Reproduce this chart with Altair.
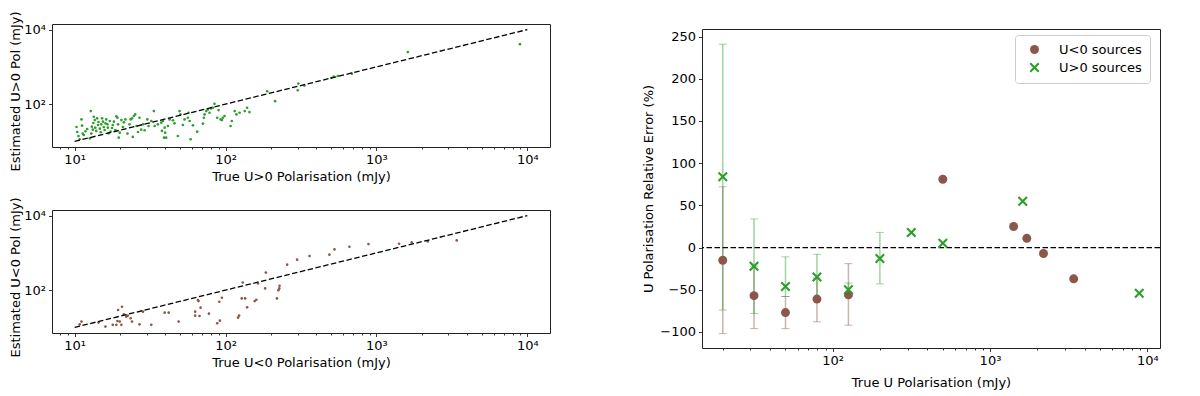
import altair as alt
import pandas as pd

GREEN = "#2ca02c"
BROWN = "#8c564b"
FONT = "DejaVu Sans"

# ---------- left top: U>0 sources (true vs estimated, mJy) ----------
pos_true = [10.3, 10.4, 10.6, 10.8, 11.1, 11.2, 11.3, 11.5, 11.8, 12.1, 12.6, 12.8, 12.9, 13.0, 13.2,
            13.3, 13.4, 13.6, 13.7, 13.9, 14.1, 14.3, 14.4, 14.7, 14.9, 15.0, 15.2, 15.4, 15.6, 15.8,
            16.0, 16.2, 16.5, 16.6, 16.8, 17.1, 17.3, 17.7, 17.9, 18.2, 18.6, 18.9, 19.2, 19.4, 19.6,
            19.9, 20.4, 20.9, 21.2, 21.7, 22.4, 23.1, 23.5, 24.0, 24.3, 24.7, 25.2, 25.7, 26.3, 26.9,
            27.6, 28.4, 29.1, 30.3, 30.9, 32.2, 33.5, 33.9, 35.6, 37.5, 37.9, 38.5, 39.1, 39.5, 39.8,
            40.4, 41.5, 42.6, 44.8, 45.9, 48.3, 49.6, 50.3, 52.1, 53.5, 56.3, 56.9, 57.8, 58.7, 60.8,
            64.9, 70.8, 71.9, 72.6, 74.5, 76.4, 78.3, 80.3, 82.4, 84.5, 88.1, 89.9, 92.7, 94.6, 96.0,
            98.5, 108, 110, 115, 118, 124, 134, 139, 144, 189, 213, 301, 304, 333, 501, 521, 554, 687,
            1614, 8930]
pos_est = [24.4, 17.9, 14.0, 11.4, 39.0, 26.4, 16.2, 14.9, 18.7, 21.5, 12.1, 65.1, 16.2, 24.9, 20.7,
           31.1, 45.9, 37.4, 23.4, 19.1, 41.5, 27.5, 33.1, 22.0, 17.6, 28.7, 41.5, 33.8, 24.4, 20.3,
           30.5, 39.0, 28.7, 23.4, 16.5, 35.2, 18.3, 22.9, 27.5, 33.8, 20.3, 46.9, 43.2, 28.7, 12.6,
           17.2, 37.4, 24.4, 32.5, 39.0, 16.2, 28.7, 39.0, 41.5, 13.2, 47.9, 53.0, 25.9, 17.9, 43.2,
           20.7, 28.7, 19.9, 39.0, 25.9, 35.2, 65.1, 25.9, 28.7, 31.8, 19.1, 35.2, 12.6, 23.4, 17.2,
           12.6, 25.9, 39.0, 36.7, 30.5, 14.0, 65.1, 53.0, 27.5, 39.0, 43.2, 58.7, 35.2, 11.4, 27.0,
           18.3, 29.9, 43.2, 53.0, 65.1, 72.1, 58.7, 76.6, 79.8, 102, 43.2, 69.2, 39.0, 37.4, 43.2,
           47.9, 25.9, 35.2, 65.1, 53.0, 58.7, 65.1, 79.8, 61.2, 222, 120, 236, 356, 315, 504, 547, 570, 657,
           2486, 4064]

# ---------- left bottom: U<0 sources ----------
neg_true = [10.8, 11.1, 14.4, 16.0, 17.9, 18.9, 19.2, 19.4, 19.9, 20.4, 20.6, 21.2, 22.0, 22.5, 23.5,
            24.0, 26.9, 28.4, 32.2, 39.5, 42.0, 48.9, 62.9, 62.9, 65.6, 66.2, 67.2, 68.3, 77.6, 88.1,
            90.9, 91.7, 94.6, 121, 123, 128, 130, 135, 139, 156, 160, 164, 183, 185, 219, 224, 227, 228,
            256, 298, 360, 488, 527, 662, 885, 1413, 1714, 2188, 3404]
neg_est = [12.1, 14.3, 13.5, 10.5, 11.7, 11.7, 14.9, 29.3, 14.3, 11.7, 35.9, 22.5, 19.4, 20.7, 17.6,
           14.3, 12.1, 26.4, 11.7, 24.9, 24.9, 14.3, 26.4, 20.7, 54.1, 50.9, 20.3, 33.8, 23.4, 12.9,
           48.9, 15.2, 62.5, 18.3, 20.7, 60.0, 160, 60.0, 34.5, 50.9, 55.2, 151, 111, 296, 60.0, 100, 111, 131,
           483, 657, 824, 893, 1240, 1460, 1720, 1755, 1905, 2026, 2155]

# one-to-one reference line
line_vals = [10, 10000]

# ---------- right: relative error (%) ----------
SERIES = ["U<0 sources", "U>0 sources"]
neg_x = [20, 31.6, 50.1, 79.4, 125.9, 501.2, 1413, 1714, 2188, 3404]
neg_y = [-15, -57, -77, -61, -56, 81, 25, 11, -7, -37]
pos_x = [20, 31.6, 50.1, 79.4, 125.9, 199.5, 316.2, 501.2, 1614, 8890]
pos_y = [84, -22, -46, -35, -50, -13, 18, 5, 55, -54]

neg_bar_x = [20, 31.6, 50.1, 79.4, 125.9]
neg_bar_lo = [-102, -96, -96, -88, -92]
neg_bar_hi = [72, -22, -58, -36, -19]
pos_bar_x = [20, 31.6, 50.1, 79.4, 125.9, 199.5]
pos_bar_lo = [-74, -78, -58, -62, -58, -43]
pos_bar_hi = [241, 34, -11, -8, -42, 18]

# tick positions
minor_left = [8, 9, 10, 20, 30, 40, 50, 60, 70, 80, 90, 100, 200, 300, 400, 500, 600, 700, 800, 900,
              1000, 2000, 3000, 4000, 5000, 6000, 7000, 8000, 9000, 10000]
minor_right = [v for v in minor_left if v >= 20]
y_left_ticks = [100, 10000]
y_right_ticks = [-100, -50, 0, 50, 100, 150, 200, 250]

LOG_LABEL = ("datum.value == 10 ? '10\u00b9' : datum.value == 100 ? '10\u00b2' : "
             "datum.value == 1000 ? '10\u00b3' : datum.value == 10000 ? '10\u2074' : ''")
MAJOR_TEST = "datum.value == 10 || datum.value == 100 || datum.value == 1000 || datum.value == 10000"
TICK_SIZE = {"condition": {"test": MAJOR_TEST, "value": 3.5}, "value": 2}

XPATH = "M-1,-0.7L-0.7,-1L0,-0.3L0.7,-1L1,-0.7L0.3,0L1,0.7L0.7,1L0,0.3L-0.7,1L-1,0.7L-0.3,0Z"


def log_x_axis(title, values, tpad=4):
    return alt.Axis(title=title, values=values, labelExpr=LOG_LABEL, tickSize=TICK_SIZE,
                    labelOverlap=False, labelFlush=False, grid=False, titlePadding=tpad)


def log_y_axis(title):
    return alt.Axis(title=title, values=y_left_ticks, labelExpr=LOG_LABEL, tickSize=3.5,
                    labelOverlap=False, labelFlush=False, grid=False, titlePadding=1,
                    titleY=67)


LEFT_DOM = [7.08, 14125]


def scatter_panel(tv, ev, color, xtitle, ytitle):
    df = pd.DataFrame({"t": tv, "e": ev})
    ldf = pd.DataFrame({"t": line_vals, "e": line_vals})
    xs = alt.Scale(type="log", domain=LEFT_DOM, nice=False)
    ys = alt.Scale(type="log", domain=LEFT_DOM, nice=False)
    pts = alt.Chart(df).mark_circle(size=7, color=color, opacity=1).encode(
        x=alt.X("t:Q", scale=xs, axis=log_x_axis(xtitle, minor_left)),
        y=alt.Y("e:Q", scale=ys, axis=log_y_axis(ytitle)),
    )
    ln = alt.Chart(ldf).mark_line(color="black", strokeDash=[5.5, 2.5], strokeWidth=1.3).encode(
        x=alt.X("t:Q", scale=xs), y=alt.Y("e:Q", scale=ys)
    )
    return alt.layer(pts, ln).properties(width=498, height=123)


top = scatter_panel(pos_true, pos_est, GREEN, "True U>0 Polarisation (mJy)", "Estimated U>0 Pol (mJy)")
bottom = scatter_panel(neg_true, neg_est, BROWN, "True U<0 Polarisation (mJy)", "Estimated U<0 Pol (mJy)")

# right panel
rx = alt.Scale(type="log", domain=[14.76, 12045], nice=False)
ry = alt.Scale(domain=[-119, 259], nice=False, zero=False)
xax = log_x_axis("True U Polarisation (mJy)", minor_right, tpad=9)
yax = alt.Axis(title="U Polarisation Relative Error (%)", values=y_right_ticks, tickSize=3.5,
               grid=False, labelFlush=False, labelOverlap=False)

pts_df = pd.DataFrame({
    "x": neg_x + pos_x,
    "y": neg_y + pos_y,
    "series": [SERIES[0]] * len(neg_x) + [SERIES[1]] * len(pos_x),
})


def err_layers(bx, lo, hi, color):
    df = pd.DataFrame({"x": bx, "lo": lo, "hi": hi})
    rule = alt.Chart(df).mark_rule(color=color, opacity=0.45, strokeWidth=1.5).encode(
        x=alt.X("x:Q", scale=rx, axis=xax), y=alt.Y("lo:Q", scale=ry, axis=yax), y2="hi:Q"
    )
    cap_lo = alt.Chart(df).mark_tick(color=color, opacity=0.45, orient="horizontal", size=8,
                                     thickness=1).encode(
        x=alt.X("x:Q", scale=rx), y=alt.Y("lo:Q", scale=ry)
    )
    cap_hi = alt.Chart(df).mark_tick(color=color, opacity=0.45, orient="horizontal", size=8,
                                     thickness=1).encode(
        x=alt.X("x:Q", scale=rx), y=alt.Y("hi:Q", scale=ry)
    )
    return [rule, cap_lo, cap_hi]


legend = alt.Legend(title=None, orient="none", legendX=963, legendY=11, padding=8,
                    strokeColor="#cccccc", fillColor="white", cornerRadius=3, labelFontSize=13,
                    labelFont=FONT, symbolSize=90, rowPadding=4, labelOffset=18, symbolOffset=5,
                    labelColor="black")

zero_rule = alt.Chart(pd.DataFrame({"z": [0]})).mark_rule(
    color="black", strokeDash=[5.5, 2.5], strokeWidth=1.3
).encode(y=alt.Y("z:Q", scale=ry))

points = alt.Chart(pts_df).mark_point(filled=True, opacity=1).encode(
    x=alt.X("x:Q", scale=rx),
    y=alt.Y("y:Q", scale=ry),
    color=alt.Color("series:N", scale=alt.Scale(domain=SERIES, range=[BROWN, GREEN]), legend=legend),
    shape=alt.Shape("series:N", scale=alt.Scale(domain=SERIES, range=["circle", XPATH]), legend=legend),
    size=alt.Size("series:N", scale=alt.Scale(domain=SERIES, range=[80, 100]), legend=None),
)

right = alt.layer(
    *err_layers(neg_bar_x, neg_bar_lo, neg_bar_hi, BROWN),
    *err_layers(pos_bar_x, pos_bar_lo, pos_bar_hi, GREEN),
    zero_rule,
    points,
).properties(width=458, height=319)

spacer = alt.Chart(pd.DataFrame({"s": [0]})).mark_point(opacity=0).encode(
    x=alt.value(0), y=alt.value(0)
).properties(width=458, height=1, view=alt.ViewBackground(stroke="transparent"))

left_col = alt.vconcat(top, bottom, spacing=63, bounds="flush")
right_col = alt.vconcat(spacer, right, spacing=4, bounds="flush")

chart = alt.hconcat(left_col, right_col, spacing=91).properties(
    padding={"left": 1, "top": 2, "right": 5, "bottom": 5}
).configure(font=FONT).configure_view(stroke="#222222", strokeWidth=1).configure_axis(
    domain=False, tickColor="#222222", tickWidth=0.9, labelFont=FONT, titleFont=FONT,
    labelFontSize=13, titleFontSize=13, titleFontWeight="normal", labelColor="black",
    titleColor="black", labelPadding=3, titlePadding=4
)

chart.save("out.html", embed_options={"renderer": "svg", "actions": False})
